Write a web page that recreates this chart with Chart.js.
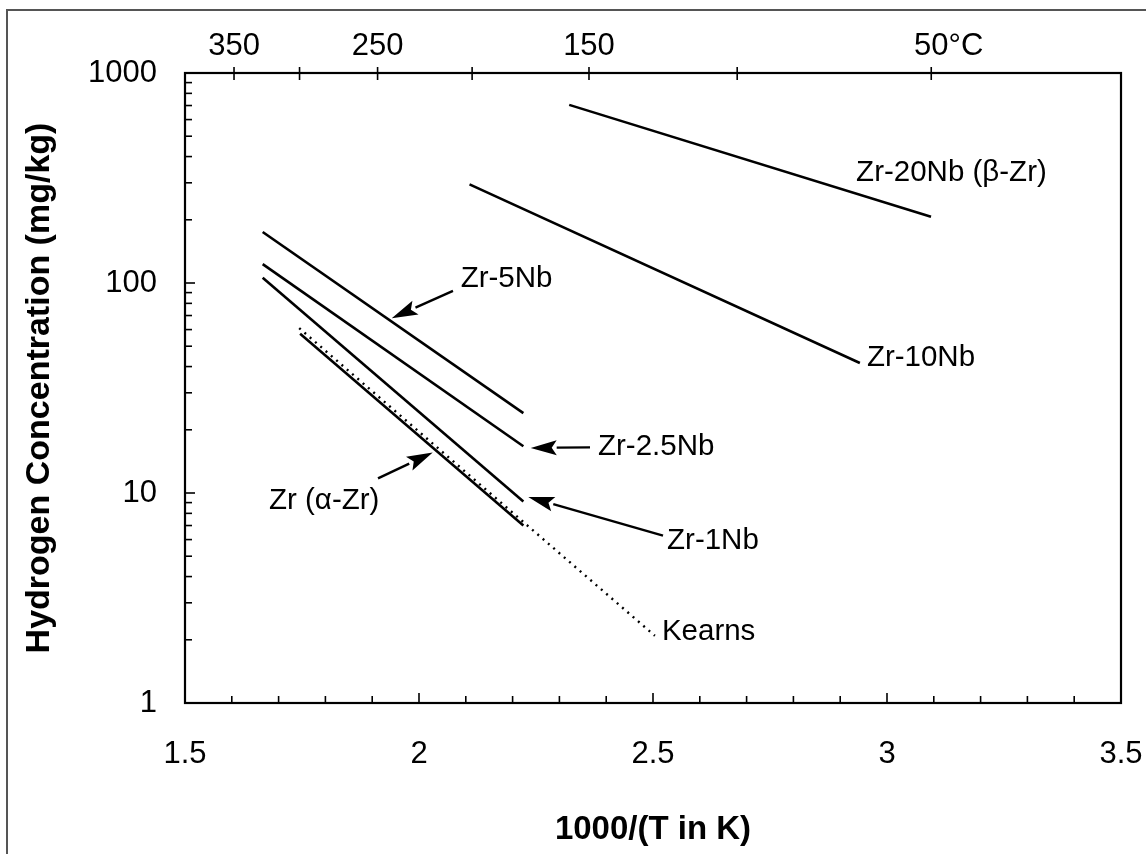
<!DOCTYPE html>
<html>
<head>
<meta charset="utf-8">
<title>Hydrogen solubility in Zr-Nb alloys</title>
<script src="https://cdn.jsdelivr.net/npm/chart.js@4.4.1/dist/chart.umd.min.js"></script>
<style>
  html, body { margin: 0; padding: 0; background: #fff; }
  canvas { display: block; }
</style>
</head>
<body>
<canvas id="chart" width="1146" height="854"></canvas>
<script>
// End points of each terminal solid solubility line: x = 1000/T (K^-1), y = H in mg/kg
const zr20NbX = [2.321, 3.094];
const zr20NbY = [705, 207];
const zr10NbX = [2.108, 2.942];
const zr10NbY = [295, 41.6];
const zr5NbX = [1.666, 2.223];
const zr5NbY = [175, 24.0];
const zr25NbX = [1.666, 2.223];
const zr25NbY = [123, 16.7];
const zr1NbX = [1.666, 2.223];
const zr1NbY = [106, 9.1];
const zrAlphaX = [1.746, 2.223];
const zrAlphaY = [57.3, 7.0];
const kearnsX = [1.744, 2.504];
const kearnsY = [61.0, 2.09];

// Axis tick values
const xTickValues = [1.5, 2, 2.5, 3, 3.5];
const yTickValues = [1, 10, 100, 1000];
const celsiusTicks = [350, 300, 250, 200, 150, 100, 50];
const celsiusLabelValues = [350, 250, 150, 50];
const celsiusUnit = '°C';

// Curve labels and pointer arrows, placed in data units (x: 1000/T, y: mg/kg)
const notes = [
  { text: 'Zr-20Nb (β-Zr)', x: 2.934, y: 333 },
  { text: 'Zr-10Nb', x: 2.957, y: 43.9 },
  { text: 'Zr-5Nb', x: 2.089, y: 105, from: [2.0726, 91.7], to: [1.9417, 68] },
  { text: 'Zr-2.5Nb', x: 2.3825, y: 16.6, from: [2.3654, 16.5], to: [2.2387, 16.4] },
  { text: 'Zr (α-Zr)', x: 1.6795, y: 9.17, from: [1.9124, 11.73], to: [2.0293, 15.6] },
  { text: 'Zr-1Nb', x: 2.530, y: 5.92, from: [2.5214, 6.26], to: [2.2335, 9.58] },
  { text: 'Kearns', x: 2.519, y: 2.19 }
];

const FAMILY = '"Liberation Sans", Arial, Helvetica, sans-serif';
const toPoints = (xs, ys) => xs.map((v, i) => ({ x: v, y: ys[i] }));

function solid(label, xs, ys) {
  return {
    label, data: toPoints(xs, ys), showLine: true, pointRadius: 0,
    borderColor: '#000', borderWidth: 2.6, fill: false
  };
}

const datasets = [
  solid('Zr-20Nb', zr20NbX, zr20NbY),
  solid('Zr-10Nb', zr10NbX, zr10NbY),
  solid('Zr-5Nb', zr5NbX, zr5NbY),
  solid('Zr-2.5Nb', zr25NbX, zr25NbY),
  solid('Zr-1Nb', zr1NbX, zr1NbY),
  solid('Zr', zrAlphaX, zrAlphaY),
  Object.assign(solid('Kearns', kearnsX, kearnsY), { borderWidth: 2.4, borderDash: [2, 5] })
];

// Page background and the outer rule along the left and top edges
const pageFrame = {
  id: 'pageFrame',
  beforeDraw(chart) {
    const { ctx, width, height } = chart;
    ctx.save();
    ctx.fillStyle = '#fff';
    ctx.fillRect(0, 0, width, height);
    ctx.strokeStyle = '#555';
    ctx.lineWidth = 2;
    ctx.beginPath();
    ctx.moveTo(7, height);
    ctx.lineTo(7, 10);
    ctx.lineTo(width, 10);
    ctx.stroke();
    ctx.restore();
  }
};

// Plot box, inward tick marks and the Celsius scale on the top edge
const boxAndTicks = {
  id: 'boxAndTicks',
  afterDatasetsDraw(chart) {
    const { ctx, chartArea: a, scales: { x, y } } = chart;
    const seg = (x1, y1, x2, y2) => { ctx.beginPath(); ctx.moveTo(x1, y1); ctx.lineTo(x2, y2); ctx.stroke(); };
    ctx.save();
    ctx.strokeStyle = '#000';
    ctx.lineWidth = 2.2;
    ctx.strokeRect(a.left, a.top, a.right - a.left, a.bottom - a.top);

    ctx.lineWidth = 1.6;
    // bottom axis: minor every 0.1, major every 0.5
    for (let i = 1; i < 20; i++) {
      const px = x.getPixelForValue(x.min + i * 0.1);
      seg(px, a.bottom, px, a.bottom - (i % 5 === 0 ? 10 : 7));
    }
    // left axis: logarithmic minor ticks
    for (let d = 0; d < 3; d++) {
      for (let m = 1; m <= 9; m++) {
        const v = m * Math.pow(10, d);
        if (v === 1) continue;
        const py = y.getPixelForValue(v);
        seg(a.left, py, a.left + (m === 1 ? 10 : 7), py);
      }
    }
    // top axis: temperature in Celsius, ticks straddle the frame
    for (const t of celsiusTicks) {
      const px = x.getPixelForValue(1000 / (t + 273.15));
      seg(px, a.top - 6, px, a.top + 7);
    }
    ctx.fillStyle = '#000';
    ctx.font = '31px ' + FAMILY;
    ctx.textAlign = 'left';
    ctx.textBaseline = 'middle';
    celsiusLabelValues.forEach((t, i) => {
      const px = x.getPixelForValue(1000 / (t + 273.15));
      const num = String(t);
      const text = i === celsiusLabelValues.length - 1 ? num + celsiusUnit : num;
      ctx.fillText(text, px - ctx.measureText(num).width / 2, a.top - 27);
    });
    ctx.restore();
  }
};

// Curve labels with filled arrowheads
const curveNotes = {
  id: 'curveNotes',
  afterDraw(chart) {
    const { ctx, scales: { x, y } } = chart;
    ctx.save();
    ctx.fillStyle = '#000';
    ctx.strokeStyle = '#000';
    ctx.font = '29.5px ' + FAMILY;
    ctx.textAlign = 'left';
    ctx.textBaseline = 'middle';
    for (const n of notes) {
      ctx.fillText(n.text, x.getPixelForValue(n.x), y.getPixelForValue(n.y));
      if (!n.from) continue;
      const x1 = x.getPixelForValue(n.from[0]), y1 = y.getPixelForValue(n.from[1]);
      const x2 = x.getPixelForValue(n.to[0]), y2 = y.getPixelForValue(n.to[1]);
      const ang = Math.atan2(y2 - y1, x2 - x1);
      const headLen = 26, halfW = 7.5;
      const bx = x2 - headLen * Math.cos(ang), by = y2 - headLen * Math.sin(ang);
      ctx.lineWidth = 2.4;
      ctx.beginPath();
      ctx.moveTo(x1, y1);
      ctx.lineTo(bx, by);
      ctx.stroke();
      ctx.beginPath();
      ctx.moveTo(x2, y2);
      ctx.lineTo(bx + halfW * Math.sin(ang), by - halfW * Math.cos(ang));
      ctx.lineTo(x2 - (headLen - 5) * Math.cos(ang), y2 - (headLen - 5) * Math.sin(ang));
      ctx.lineTo(bx - halfW * Math.sin(ang), by + halfW * Math.cos(ang));
      ctx.closePath();
      ctx.fill();
    }
    ctx.restore();
  }
};

new Chart(document.getElementById('chart'), {
  type: 'scatter',
  data: { datasets },
  options: {
    responsive: false,
    animation: false,
    devicePixelRatio: 1,
    layout: { padding: { top: 73, right: 25, left: 0, bottom: 0 } },
    plugins: { legend: { display: false }, tooltip: { enabled: false } },
    scales: {
      x: {
        type: 'linear', position: 'bottom', min: 1.5, max: 3.5,
        afterBuildTicks: s => { s.ticks = xTickValues.map(v => ({ value: v })); },
        afterFit: s => { s.height = 151; s.paddingLeft = 0; s.paddingRight = 0; },
        grid: { display: false, drawTicks: false },
        border: { display: false },
        ticks: {
          padding: 33, color: '#000', autoSkip: false, maxRotation: 0,
          font: { family: FAMILY, size: 31 },
          callback: v => String(v)
        },
        title: {
          display: true, text: '1000/(T in K)', color: '#000',
          font: { family: FAMILY, size: 33, weight: 'bold' },
          padding: { top: 0, bottom: 4 }
        }
      },
      y: {
        type: 'logarithmic', position: 'left', min: 1, max: 1000,
        afterBuildTicks: s => { s.ticks = yTickValues.map(v => ({ value: v })); },
        afterFit: s => { s.width = 185; s.paddingTop = 0; s.paddingBottom = 0; },
        grid: { display: false, drawTicks: false },
        border: { display: false },
        ticks: {
          padding: 28, color: '#000', autoSkip: false,
          font: { family: FAMILY, size: 31 },
          callback: v => String(v)
        },
        title: {
          display: true, text: 'Hydrogen Concentration (mg/kg)', color: '#000',
          font: { family: FAMILY, size: 34, weight: 'bold' },
          padding: { top: 19, bottom: 0 }
        }
      }
    }
  },
  plugins: [pageFrame, boxAndTicks, curveNotes]
});
</script>
</body>
</html>
